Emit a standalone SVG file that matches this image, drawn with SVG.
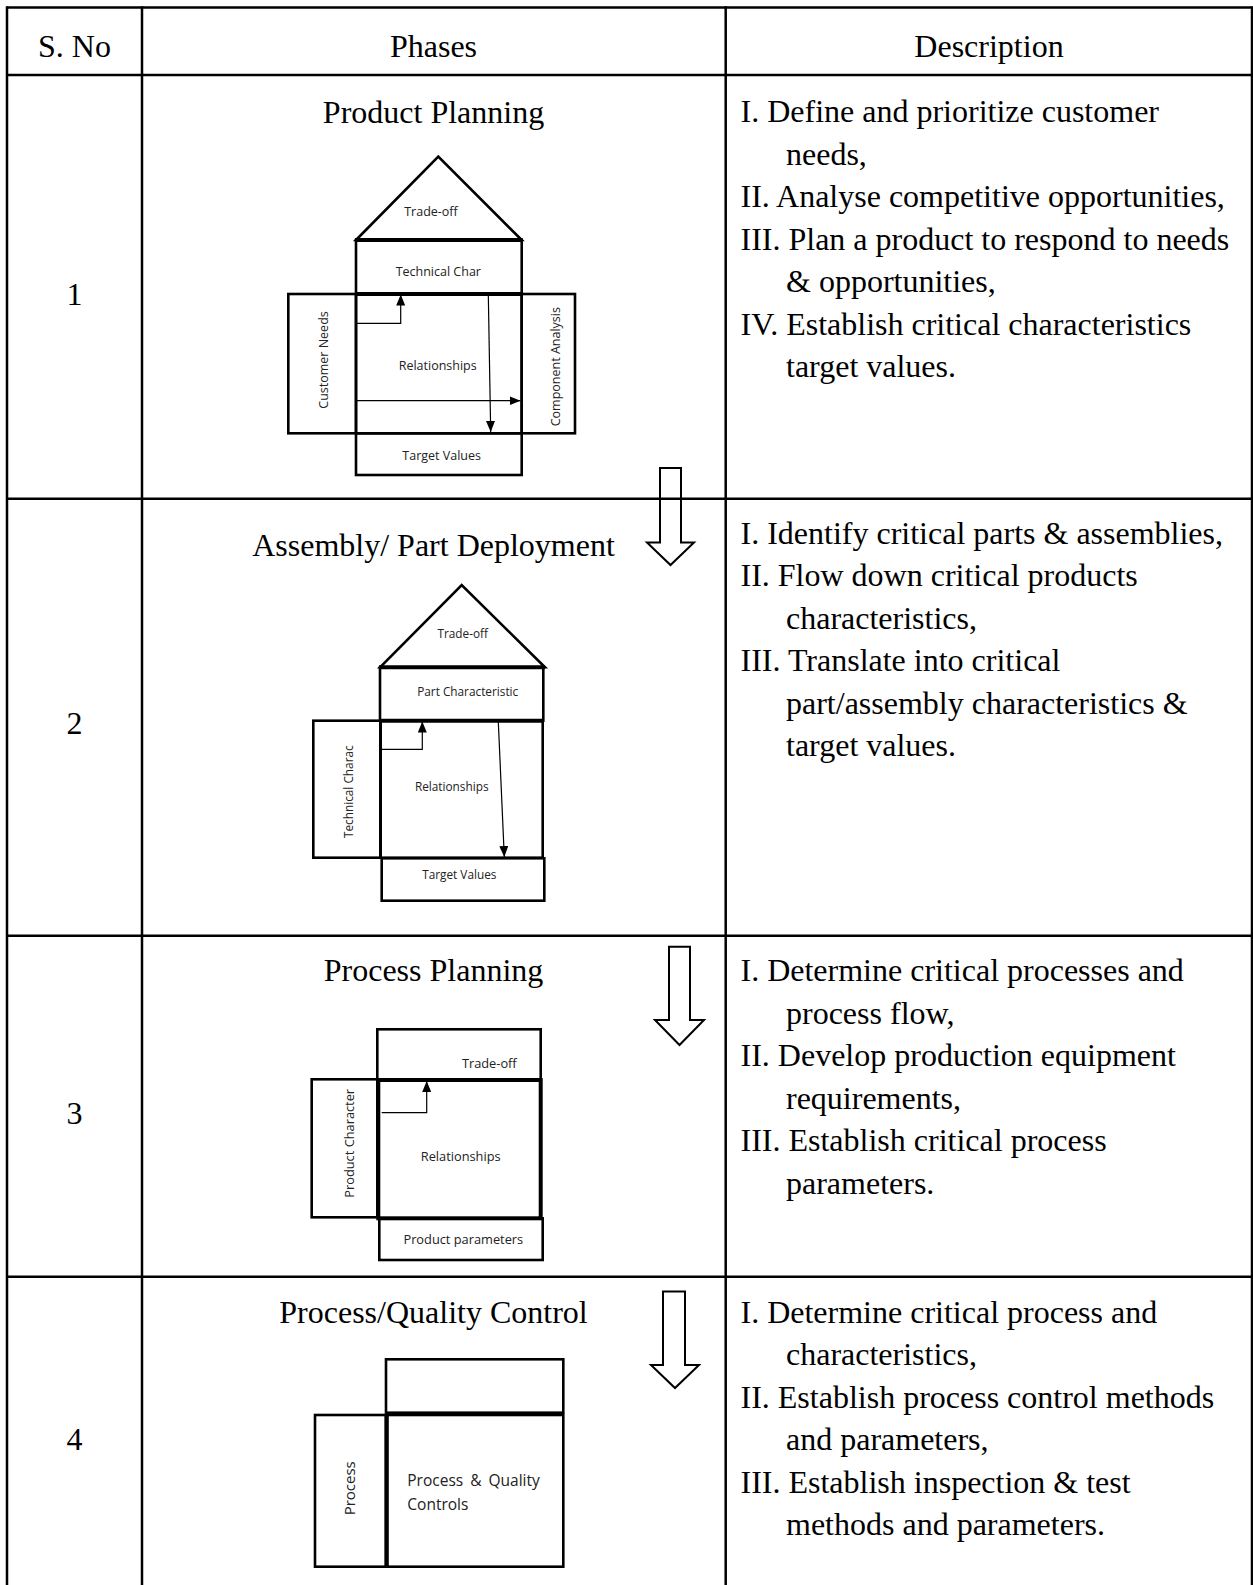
<svg xmlns="http://www.w3.org/2000/svg" width="1253" height="1585" viewBox="0 0 1253 1585">
<style>
.grid{stroke:#000;stroke-width:2.5;fill:none}
.t{font-family:"Liberation Serif","Times New Roman",serif;font-size:32px;fill:#000}
.c{text-anchor:middle}
.s{font-family:"Open Sans","Noto Sans",sans-serif;fill:#222;text-anchor:middle}
.box{stroke:#000;stroke-width:2.6;fill:none}
.thick{stroke:#000;stroke-width:4;fill:none}
.arr{stroke:#000;stroke-width:1.2;fill:none;marker-end:url(#ah)}
.hollow{stroke:#000;stroke-width:2;fill:none;stroke-linejoin:miter}
</style>
<defs>
<marker id="ah" viewBox="0 0 11 9" refX="11" refY="4.5" markerWidth="11" markerHeight="9" markerUnits="userSpaceOnUse" orient="auto">
<path d="M0,0 L11,4.5 L0,9 z" fill="#000"/>
</marker>
</defs>
<rect width="1253" height="1585" fill="#fff"/>

<g id="table">
<line class="grid" x1="7" y1="7.5" x2="1252" y2="7.5"/>
<line class="grid" x1="7" y1="6.3" x2="7" y2="1585"/>
<line class="grid" x1="142" y1="6.3" x2="142" y2="1585"/>
<line class="grid" x1="725.7" y1="6.3" x2="725.7" y2="1585"/>
<line class="grid" x1="1252" y1="6.3" x2="1252" y2="1585"/>
<line class="grid" x1="7" y1="75" x2="1252" y2="75"/>
<line class="grid" x1="7" y1="498.7" x2="1252" y2="498.7"/>
<line class="grid" x1="7" y1="935.7" x2="1252" y2="935.7"/>
<line class="grid" x1="7" y1="1276.7" x2="1252" y2="1276.7"/>
</g>

<g id="header">
<text class="t c" x="74.5" y="57">S. No</text>
<text class="t c" x="433.5" y="57">Phases</text>
<text class="t c" x="989" y="57">Description</text>
</g>

<g id="row-numbers">
<text class="t c" x="74.5" y="304.5">1</text>
<text class="t c" x="74.5" y="734">2</text>
<text class="t c" x="74.5" y="1124">3</text>
<text class="t c" x="74.5" y="1449.5">4</text>
</g>

<g id="phase-titles">
<text class="t c" x="433.5" y="123">Product Planning</text>
<text class="t c" x="433.5" y="556">Assembly/ Part Deployment</text>
<text class="t c" x="433.5" y="981">Process Planning</text>
<text class="t c" x="433.5" y="1322.5">Process/Quality Control</text>
</g>

<g id="desc-1" class="t">
<text x="740.5" y="122">I. Define and prioritize customer</text>
<text x="786" y="164.5">needs,</text>
<text x="740.5" y="207">II. Analyse competitive opportunities,</text>
<text x="740.5" y="249.5">III. Plan a product to respond to needs</text>
<text x="786" y="292">&amp; opportunities,</text>
<text x="740.5" y="334.5">IV. Establish critical characteristics</text>
<text x="786" y="377">target values.</text>
</g>
<g id="desc-2" class="t">
<text x="740.5" y="543.5">I. Identify critical parts &amp; assemblies,</text>
<text x="740.5" y="586">II. Flow down critical products</text>
<text x="786" y="628.5">characteristics,</text>
<text x="740.5" y="671">III. Translate into critical</text>
<text x="786" y="713.5">part/assembly characteristics &amp;</text>
<text x="786" y="756">target values.</text>
</g>
<g id="desc-3" class="t">
<text x="740.5" y="981">I. Determine critical processes and</text>
<text x="786" y="1023.5">process flow,</text>
<text x="740.5" y="1066">II. Develop production equipment</text>
<text x="786" y="1108.5">requirements,</text>
<text x="740.5" y="1151">III. Establish critical process</text>
<text x="786" y="1193.5">parameters.</text>
</g>
<g id="desc-4" class="t">
<text x="740.5" y="1322.5">I. Determine critical process and</text>
<text x="786" y="1365">characteristics,</text>
<text x="740.5" y="1407.5">II. Establish process control methods</text>
<text x="786" y="1450">and parameters,</text>
<text x="740.5" y="1492.5">III. Establish inspection &amp; test</text>
<text x="786" y="1535">methods and parameters.</text>
</g>

<g id="flow-arrows">
<polygon class="hollow" points="660,468 681,468 681,542.5 694,542.5 670.5,565 647,542.5 660,542.5"/>
<polygon class="hollow" points="669,946.7 690,946.7 690,1020 704,1020 679.5,1045 655,1020 669,1020"/>
<polygon class="hollow" points="663,1291.5 685,1291.5 685,1365 699,1365 675,1388 651,1365 663,1365"/>
</g>

<g id="hoq-1">
<polygon class="box" points="356,240 438.3,156.7 521.7,240"/>
<rect class="box" x="356" y="240" width="165.7" height="54"/>
<line class="thick" x1="355" y1="240" x2="522.7" y2="240"/>
<rect class="box" x="288.3" y="294" width="67.7" height="139.3"/>
<rect class="box" x="356" y="294" width="165.7" height="139.3"/>
<rect class="box" x="521.7" y="294" width="53.3" height="139.3"/>
<rect class="box" x="356" y="433.3" width="165.7" height="41.7"/>
<line class="thick" x1="356" y1="294" x2="521.7" y2="294"/>
<text class="s" x="431" y="215.5" font-size="12.5">Trade-off</text>
<text class="s" x="438.3" y="275.5" font-size="12.5">Technical Char</text>
<text class="s" x="437.7" y="369.5" font-size="12.5">Relationships</text>
<text class="s" x="441.7" y="459.5" font-size="12.5">Target Values</text>
<text class="s" font-size="12.5" transform="translate(323.3,360) rotate(-90)" y="4.5">Customer Needs</text>
<text class="s" font-size="12.5" transform="translate(555,366.7) rotate(-90)" y="4.5">Component Analysis</text>
</g>

<g id="hoq-2">
<polygon class="box" points="380,667.3 461.7,585 545,667.3"/>
<rect class="box" x="380" y="667.3" width="163.3" height="53.4"/>
<line class="thick" x1="379" y1="667.3" x2="545" y2="667.3"/>
<rect class="box" x="313.3" y="720.7" width="67" height="137"/>
<rect class="box" x="380.7" y="720.7" width="162" height="137"/>
<line class="thick" x1="380.7" y1="720.7" x2="543" y2="720.7"/>
<rect class="box" x="381.7" y="858.3" width="162.6" height="42.4"/>
<text class="s" x="462.7" y="637.5" font-size="11.8">Trade-off</text>
<text class="s" x="467.7" y="696" font-size="11.8">Part Characteristic</text>
<text class="s" x="451.7" y="791" font-size="11.8">Relationships</text>
<text class="s" x="459.3" y="879.3" font-size="11.8">Target Values</text>
<text class="s" font-size="11.8" transform="translate(348.3,791.7) rotate(-90)" y="4.3">Technical Charac</text>
</g>

<g id="hoq-3">
<rect class="box" x="377.3" y="1029.3" width="163.4" height="50"/>
<rect class="box" x="311.7" y="1079.3" width="65.6" height="138"/>
<rect class="thick" x="378.3" y="1080" width="162.4" height="138.3"/>
<rect class="box" x="379.3" y="1218.3" width="163.4" height="41.7"/>
<text class="s" x="489.3" y="1068" font-size="12.8">Trade-off</text>
<text class="s" x="460.7" y="1161.3" font-size="12.8">Relationships</text>
<text class="s" x="463.3" y="1244" font-size="12.8">Product parameters</text>
<text class="s" font-size="12.8" transform="translate(349,1143.3) rotate(-90)" y="4.6">Product Character</text>
</g>

<g id="hoq-4">
<rect class="box" x="386" y="1359.3" width="177.3" height="53.4"/>
<rect class="box" x="315" y="1415" width="71" height="151.7"/>
<rect class="box" x="387.3" y="1415" width="176" height="151.7"/>
<line class="thick" x1="386.5" y1="1414" x2="386.5" y2="1567.5"/>
<line class="box" x1="386" y1="1413.5" x2="563.3" y2="1413.5"/>
<text class="s" font-size="15" transform="translate(350,1488.3) rotate(-90)" y="5.3">Process</text>
<text class="s" x="407.3" y="1485.5" font-size="15.5" style="text-anchor:start" word-spacing="3">Process &amp; Quality</text>
<text class="s" x="407.3" y="1509.5" font-size="15.5" style="text-anchor:start">Controls</text>
</g>

<g id="connectors">
<polyline class="arr" points="357,323.3 400.7,323.3 400.7,294.5"/>
<line class="arr" x1="488.3" y1="294" x2="490.7" y2="432"/>
<line class="arr" x1="357" y1="400.7" x2="520.5" y2="400.7"/>
<polyline class="arr" points="381.7,749.3 422.3,749.3 422.3,721.5"/>
<line class="arr" x1="498.3" y1="721.7" x2="504.3" y2="857"/>
<polyline class="arr" points="381.7,1112.7 426.7,1112.7 426.7,1081"/>
</g>
</svg>
